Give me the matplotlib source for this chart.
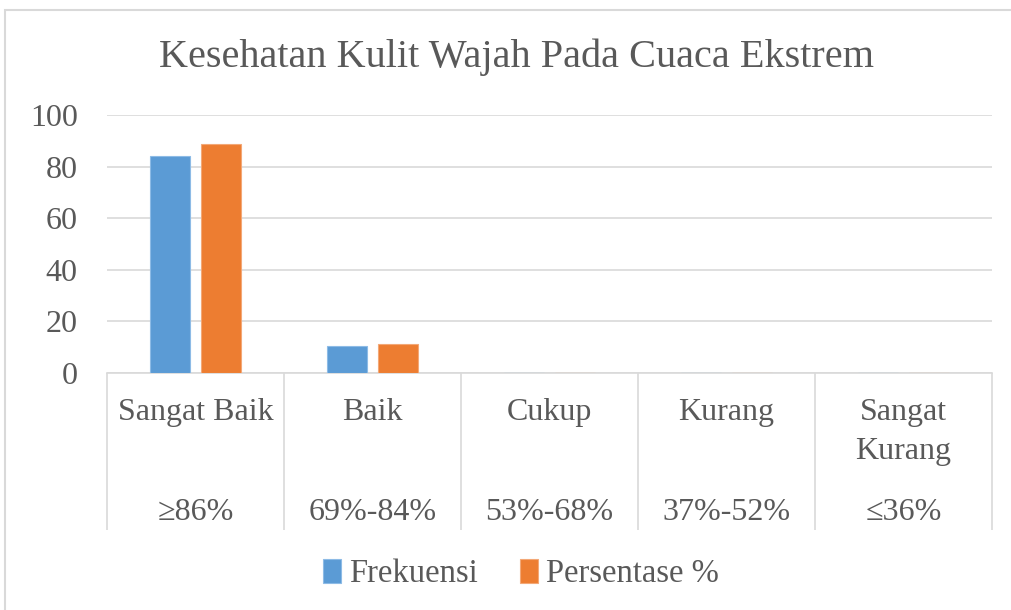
import matplotlib.pyplot as plt
import matplotlib.transforms as mtransforms
import numpy as np

# ================= data =================
categories = ["Sangat Baik", "Baik", "Cukup", "Kurang", "Sangat\nKurang"]
ranges = ["\u226586%", "69%-84%", "53%-68%", "37%-52%", "\u226436%"]
frekuensi = [84, 10.5, 0, 0, 0]
persentase = [88.8, 11.1, 0, 0, 0]
series_names = ["Frekuensi", "Persentase %"]
yticks = [0, 20, 40, 60, 80, 100]

# ================= style =================
plt.rcParams['font.family'] = ['Liberation Serif', 'DejaVu Serif']
text_color = "#595959"
grid_color = "#D9D9D9"
blue = "#5B9BD5"
orange = "#ED7D31"

fig = plt.figure(figsize=(10.11, 6.10), dpi=100)
# outer chart frame
fig.patches.append(plt.Rectangle((5 / 1011, -0.01), 1.0, 1 - 10 / 610 + 0.01, transform=fig.transFigure,
                                 fill=False, edgecolor="#D9D9D9", linewidth=1.5))
ax = fig.add_axes([107 / 1011, 237.4 / 610, 885 / 1011, 257.6 / 610])

x = np.arange(len(categories))
width = 0.226
offset = 0.142
ax.bar(x - offset, frekuensi, width, color=blue, edgecolor="#8DBBE6", linewidth=0.8, label=series_names[0], zorder=3)
ax.bar(x + offset, persentase, width, color=orange, edgecolor="#F3A877", linewidth=0.8, label=series_names[1], zorder=3)

ax.set_xlim(-0.5, len(categories) - 0.5)
ax.set_ylim(0, 100)
ax.set_yticks(yticks)
ax.set_yticklabels([str(v) for v in yticks], fontsize=23, color=text_color)
ax.tick_params(axis="y", length=0, pad=21)
ax.set_xticks([])
ax.grid(axis="y", color=grid_color, linewidth=1.2, zorder=0)
for side in ["top", "right", "left"]:
    ax.spines[side].set_visible(False)
ax.spines["bottom"].set_color(grid_color)
ax.spines["bottom"].set_linewidth(1.2)

# category table below the axis
trans = mtransforms.blended_transform_factory(ax.transData, ax.transAxes)
bounds = np.arange(len(categories) + 1) - 0.5
ax.vlines(bounds, -0.611, 0, transform=trans, colors=grid_color, linewidth=1.2, clip_on=False)
for i in range(len(categories)):
    lines = categories[i].split("\n")
    for k, line in enumerate(lines):
        ax.text(i, -0.155 - k * 0.152, line, transform=trans, ha="center", va="center",
                fontsize=23, color=text_color)
    ax.text(i, -0.545, ranges[i], transform=trans, ha="center", va="center", fontsize=23, color=text_color)

fig.text(0.511, 1 - 57 / 610, "Kesehatan Kulit Wajah Pada Cuaca Ekstrem", ha="center", va="center",
         fontsize=29, color=text_color)

ax.legend(loc="center", bbox_to_anchor=(521 / 1011, 1 - 574 / 610), bbox_transform=fig.transFigure,
          ncol=2, frameon=False, fontsize=23.5, labelcolor=text_color, handlelength=0.55, handleheight=0.75,
          handletextpad=0.25, columnspacing=1.3)

plt.savefig("out.png", dpi=100)
plt.close()
